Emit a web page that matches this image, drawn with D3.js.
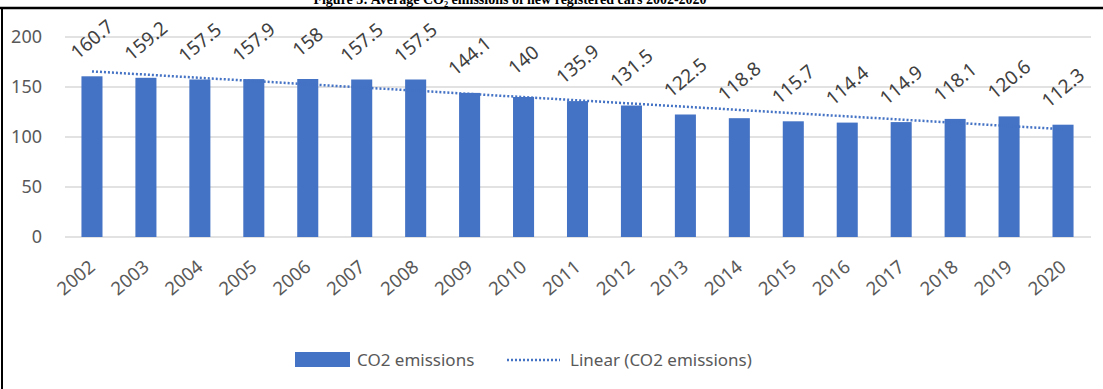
<!DOCTYPE html>
<html>
<head>
<meta charset="utf-8">
<script src="https://cdn.jsdelivr.net/npm/d3@7"></script>
<style>
  body { margin: 0; background: #fff; }
  svg { display: block; font-family: "Noto Sans", sans-serif; }
</style>
</head>
<body>
<div id="chart"></div>
<script>
// Data
const years = ["2002", "2003", "2004", "2005", "2006", "2007", "2008", "2009", "2010", "2011",
  "2012", "2013", "2014", "2015", "2016", "2017", "2018", "2019", "2020"];
const emissions = [160.7, 159.2, 157.5, 157.9, 158, 157.5, 157.5, 144.1, 140, 135.9,
  131.5, 122.5, 118.8, 115.7, 114.4, 114.9, 118.1, 120.6, 112.3];
const yTicks = [0, 50, 100, 150, 200];
const labels = ["CO2 emissions", "Linear (CO2 emissions)"];

const W = 1103, H = 389;
const blue = "#4472C4";

const svg = d3.select("#chart").append("svg")
  .attr("width", W)
  .attr("height", H);

// caption cut off at the top of the picture
svg.append("text")
  .attr("x", 510)
  .attr("y", 4)
  .attr("text-anchor", "middle")
  .style("font-family", "'Liberation Serif', serif")
  .style("font-size", "14px")
  .style("font-weight", "bold")
  .text("Figure 5: Average CO\u2082 emissions of new registered cars 2002-2020");

// frame (top and left only are visible)
svg.append("line").attr("x1", 0).attr("x2", W).attr("y1", 8).attr("y2", 8)
  .attr("stroke", "#000").attr("stroke-width", 2.5);
svg.append("line").attr("x1", 2).attr("x2", 2).attr("y1", 8).attr("y2", H)
  .attr("stroke", "#000").attr("stroke-width", 2);

// Scales
const x = d3.scaleBand()
  .domain(years)
  .range([65, 1090])
  .paddingInner(0.61)
  .paddingOuter(0.305);

const y = d3.scaleLinear()
  .domain([0, 200])
  .range([237, 37]);

// Gridlines
svg.append("g")
  .selectAll("line")
  .data(yTicks)
  .join("line")
  .attr("x1", 65)
  .attr("x2", 1091)
  .attr("y1", d => y(d))
  .attr("y2", d => y(d))
  .attr("stroke", "#d9d9d9")
  .attr("stroke-width", 1.3);

// Y axis labels
const yAxis = svg.append("g")
  .attr("transform", "translate(50,0)")
  .call(d3.axisLeft(y).tickValues(yTicks).tickSize(0).tickPadding(8));
yAxis.select(".domain").remove();
yAxis.selectAll("text")
  .style("font-family", "'Noto Sans', sans-serif")
  .style("font-size", "18px")
  .attr("fill", "#595959");

// Bars
const data = years.map((yr, i) => ({ year: yr, value: emissions[i] }));

svg.append("g")
  .selectAll("rect")
  .data(data)
  .join("rect")
  .attr("x", d => x(d.year))
  .attr("y", d => y(d.value))
  .attr("width", x.bandwidth())
  .attr("height", d => y(0) - y(d.value))
  .attr("fill", blue);

// Linear trend (least squares on the series)
const n = emissions.length;
const meanX = (n - 1) / 2;
const meanY = d3.mean(emissions);
const slope = d3.sum(emissions, (v, i) => (i - meanX) * (v - meanY)) /
  d3.sum(emissions, (v, i) => (i - meanX) * (i - meanX));
const trend = years.map((yr, i) => ({ year: yr, value: meanY + slope * (i - meanX) }));

const line = d3.line()
  .x(d => x(d.year) + x.bandwidth() / 2)
  .y(d => y(d.value));

svg.append("path")
  .datum([trend[0], trend[n - 1]])
  .attr("d", line)
  .attr("fill", "none")
  .attr("stroke", blue)
  .attr("stroke-width", 2.5)
  .attr("stroke-dasharray", "2,2");

// Data labels (rotated)
svg.append("g")
  .selectAll("text")
  .data(data)
  .join("text")
  .attr("transform", d => {
    const cx = x(d.year) + x.bandwidth() / 2;
    return `translate(${cx},${y(d.value) - 37}) rotate(-40)`;
  })
  .attr("text-anchor", "middle")
  .attr("dy", "0.35em")
  .attr("fill", "#404040")
  .style("font-size", "19px")
  .text(d => d.value);

// X axis labels (rotated)
svg.append("g")
  .selectAll("text")
  .data(years)
  .join("text")
  .attr("transform", d => `translate(${x(d) + x.bandwidth() / 2 - 4},259) rotate(-40)`)
  .attr("text-anchor", "end")
  .attr("dy", "0.7em")
  .attr("fill", "#595959")
  .style("font-size", "18.5px")
  .text(d => d);

// Legend
const legend = svg.append("g");
legend.append("rect")
  .attr("x", 295).attr("y", 352)
  .attr("width", 55).attr("height", 15)
  .attr("fill", blue);
legend.append("text")
  .attr("x", 357).attr("y", 360)
  .attr("dy", "0.35em")
  .attr("fill", "#595959")
  .style("font-size", "17px")
  .text(labels[0]);
legend.append("line")
  .attr("x1", 507).attr("x2", 560)
  .attr("y1", 360).attr("y2", 360)
  .attr("stroke", blue)
  .attr("stroke-width", 2.5)
  .attr("stroke-dasharray", "2,2");
legend.append("text")
  .attr("x", 570).attr("y", 360)
  .attr("dy", "0.35em")
  .attr("fill", "#595959")
  .style("font-size", "17px")
  .text(labels[1]);
</script>
</body>
</html>
